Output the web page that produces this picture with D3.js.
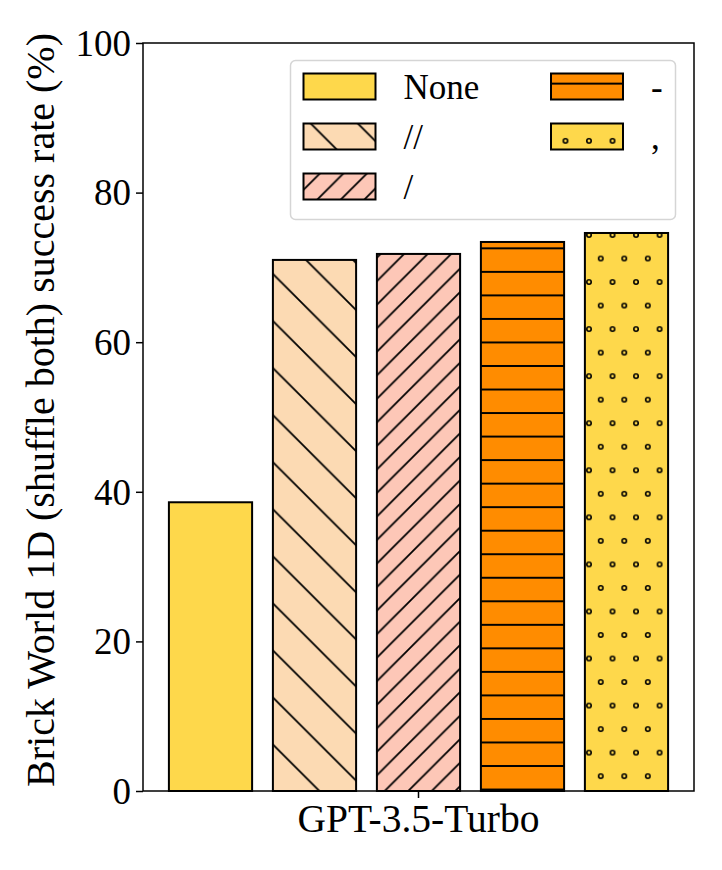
<!DOCTYPE html>
<html>
<head>
<meta charset="utf-8">
<script src="https://cdn.jsdelivr.net/npm/d3@7"></script>
<style>
  html, body { margin: 0; padding: 0; background: #fff; }
  svg text { font-family: "Liberation Serif", "Times New Roman", serif; fill: #000; }
</style>
</head>
<body>
<svg id="chart" width="722" height="870"></svg>
<script>
// chart data
var models = ["GPT-3.5-Turbo"];
var separators = ["None", "//", "/", "-", ","];
var successRate = [38.6, 71.0, 71.8, 73.4, 74.6];
var yTicks = [0, 20, 40, 60, 80, 100];

// look of each series
var barColors = ["#fed84b", "#fcdab3", "#fdc7b7", "#ff8c00", "#fed84b"];
var hatches = ["none", "back", "slash", "horiz", "dots"];

var margin = { top: 43, right: 28, bottom: 79, left: 143 };
var W = 722, H = 870;

var svg = d3.select("#chart");
var defs = svg.append("defs");

// hatch period (one hatch unit split in 12)
var Q = 23.53;

function makePattern(i) {
    var kind = hatches[i];
    if (kind === "none") return barColors[i];
    var id = "hatch-" + i;
    var p = defs.append("pattern")
        .attr("id", id)
        .attr("patternUnits", "userSpaceOnUse");
    var w, h, px = 0, py = 0;
    if (kind === "back") { w = 2 * Q; h = 2 * Q; px = -1; py = 0; }
    if (kind === "slash") { w = Q; h = Q; px = -0.8; py = 0; }
    if (kind === "horiz") { w = Q; h = Q; px = 0; py = 13.04 - Q / 2; }
    if (kind === "dots") { w = Q; h = 2 * Q; px = 0.75; py = -0.3; }
    p.attr("width", w).attr("height", h).attr("x", px).attr("y", py);
    p.append("rect").attr("width", w).attr("height", h).attr("fill", barColors[i]);

    if (kind === "back") {
        p.append("path")
            .attr("d", "M-1,-1L" + (w + 1) + "," + (h + 1) +
                "M" + (w - 1) + ",-1L" + (w + 1) + ",1" +
                "M-1," + (h - 1) + "L1," + (h + 1))
            .attr("stroke", "#000").attr("stroke-width", 1.8).attr("fill", "none");
    }
    if (kind === "slash") {
        p.append("path")
            .attr("d", "M-1," + (h + 1) + "L" + (w + 1) + ",-1" +
                "M-1,1L1,-1" +
                "M" + (w - 1) + "," + (h + 1) + "L" + (w + 1) + "," + (h - 1))
            .attr("stroke", "#000").attr("stroke-width", 1.8).attr("fill", "none");
    }
    if (kind === "horiz") {
        p.append("path")
            .attr("d", "M0," + (h / 2) + "H" + w)
            .attr("stroke", "#000").attr("stroke-width", 2).attr("fill", "none");
    }
    if (kind === "dots") {
        var pts = [[0, 0], [w, 0], [0, h], [w, h], [w / 2, h / 2]];
        p.selectAll("circle").data(pts).enter().append("circle")
            .attr("cx", function (d) { return d[0]; })
            .attr("cy", function (d) { return d[1]; })
            .attr("r", 2.2)
            .attr("fill", "none")
            .attr("stroke", "#000")
            .attr("stroke-width", 1.6);
    }
    return "url(#" + id + ")";
}

var fills = separators.map(function (s, i) { return makePattern(i); });

// scales, in page coordinates so hatches line up everywhere
var x0 = d3.scaleBand()
    .domain(models)
    .range([margin.left, W - margin.right])
    .paddingInner(0)
    .paddingOuter(0.0519);

var x1 = d3.scaleBand()
    .domain(separators)
    .range([0, x0.bandwidth()])
    .paddingInner(0.2)
    .paddingOuter(0);

var y = d3.scaleLinear()
    .domain([0, 100])
    .range([H - margin.bottom, margin.top]);

var data = separators.map(function (s, i) {
    return { model: models[0], sep: s, value: successRate[i], fill: fills[i] };
});

// bars
svg.append("g")
    .attr("class", "bars")
    .selectAll("rect")
    .data(data)
    .enter().append("rect")
    .attr("x", function (d) { return x0(d.model) + x1(d.sep); })
    .attr("y", function (d) { return y(d.value); })
    .attr("width", x1.bandwidth())
    .attr("height", function (d) { return y(0) - y(d.value); })
    .attr("fill", function (d) { return d.fill; })
    .attr("stroke", "#000")
    .attr("stroke-width", 2);

// y axis
var axisY = svg.append("g")
    .attr("transform", "translate(" + margin.left + ",0)")
    .call(d3.axisLeft(y).tickValues(yTicks).tickSize(7).tickPadding(5).tickFormat(d3.format("d")));
axisY.select(".domain").remove();
axisY.selectAll(".tick line").attr("stroke", "#000").attr("stroke-width", 1.5);
axisY.selectAll(".tick text").style("font-size", "37px").attr("dy", "0.33em");

// x axis
var axisX = svg.append("g")
    .attr("transform", "translate(0," + y(0) + ")")
    .call(d3.axisBottom(x0).tickSize(7).tickPadding(6));
axisX.select(".domain").remove();
axisX.selectAll(".tick line").attr("stroke", "#000").attr("stroke-width", 1.5);
axisX.selectAll(".tick text").style("font-size", "39.5px").attr("dy", "0.72em");

// frame
svg.append("rect")
    .attr("x", margin.left)
    .attr("y", margin.top)
    .attr("width", W - margin.left - margin.right)
    .attr("height", H - margin.top - margin.bottom)
    .attr("fill", "none")
    .attr("stroke", "#000")
    .attr("stroke-width", 1.5);

// y label
svg.append("text")
    .attr("transform", "translate(54,410) rotate(-90)")
    .attr("text-anchor", "middle")
    .style("font-size", "40px")
    .text("Brick World 1D (shuffle both) success rate (%)");

// legend
var legend = svg.append("g").attr("class", "legend");
legend.append("rect")
    .attr("x", 290.5).attr("y", 60.5)
    .attr("width", 385).attr("height", 159)
    .attr("rx", 5)
    .attr("fill", "#fff").attr("fill-opacity", 0.8)
    .attr("stroke", "#d5d5d5").attr("stroke-width", 1.5);

// legend patches sit in page coordinates so the hatch matches the bars
legend.selectAll("g.item")
    .data(data)
    .enter().append("g")
    .attr("class", "item")
    .each(function (d, i) {
        var col = Math.floor(i / 3), row = i % 3;
        var gx = 303.5 + col * 247.5, gy = 73.5 + row * 50;
        var g = d3.select(this);
        g.append("rect")
            .attr("x", gx).attr("y", gy)
            .attr("width", 72).attr("height", 26)
            .attr("fill", d.fill)
            .attr("stroke", "#000").attr("stroke-width", 2);
        g.append("text")
            .attr("x", gx + 100).attr("y", gy + 25.5)
            .style("font-size", "35px")
            .text(d.sep);
    });
</script>
</body>
</html>
